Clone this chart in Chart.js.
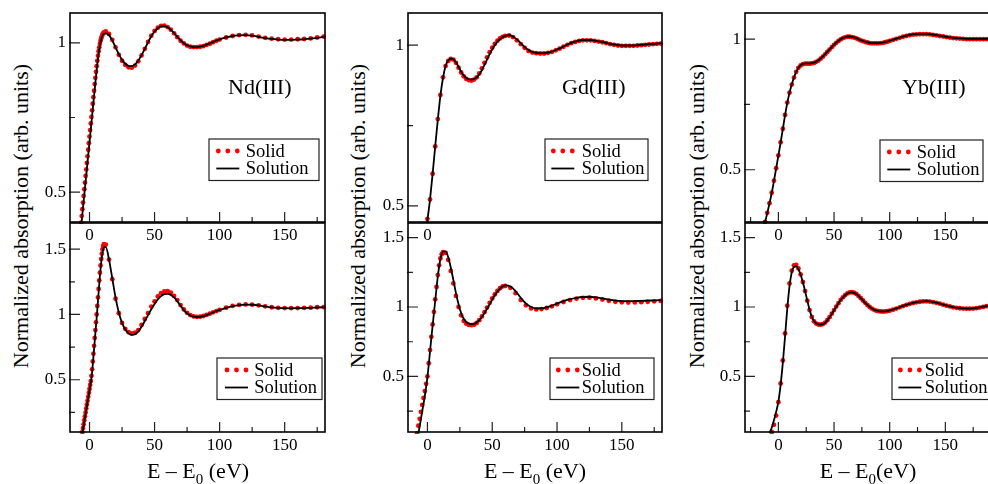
<!DOCTYPE html>
<html>
<head>
<meta charset="utf-8">
<script src="https://cdn.jsdelivr.net/npm/chart.js@4.4.0/dist/chart.umd.min.js"></script>
<style>
  html, body { margin: 0; padding: 0; background: #fff; overflow: hidden; width: 988px; height: 484px; }
  .panel { position: absolute; }
  .ytitle, .xtitle { position: absolute; font-family: 'Liberation Serif', serif; font-size: 22px; line-height: 22px; white-space: nowrap; color: #000; }
  .ytitle { top: 216px; transform: translate(-50%, -50%) rotate(-90deg); }
  .xtitle { top: 460px; transform: translateX(-50%); }
  .xtitle sub { font-size: 15px; line-height: 0; vertical-align: -6px; }
</style>
</head>
<body>
<div class="ytitle" style="left:21px">Normalized absorption (arb. units)</div>
<div class="ytitle" style="left:358px">Normalized absorption (arb. units)</div>
<div class="ytitle" style="left:697px">Normalized absorption (arb. units)</div>

<div id="ndTop" class="panel"><canvas></canvas></div>
<div id="gdTop" class="panel"><canvas></canvas></div>
<div id="ybTop" class="panel"><canvas></canvas></div>
<div id="ndBottom" class="panel"><canvas></canvas></div>
<div id="gdBottom" class="panel"><canvas></canvas></div>
<div id="ybBottom" class="panel"><canvas></canvas></div>

<div class="xtitle" style="left:198px">E &ndash; E<sub>0</sub> (eV)</div>
<div class="xtitle" style="left:535px">E &ndash; E<sub>0</sub> (eV)</div>
<div class="xtitle" style="left:868px">E &ndash; E<sub>0</sub>(eV)</div>

<script>
// labelled ticks
const xMajorTicks = [0, 50, 100, 150]
const yMajorTicks = [0.5, 1, 1.5]

// Nd(III): energies shared by both Nd panels
const ndEnergy = [-7,-6.5,-6,-5.5,-5,-4.5,-4,-3.5,-3,-2.5,-2,-1.5,-1,-0.5,0,0.5,1,1.5,2,2.5,3,3.5,4,4.5,5,5.5,6,6.5,7,7.5,8,8.5,9,9.5,10,10.5,11,
  12.5,15,17.5,20,22.5,25,27.5,30,32.5,35,37.5,40,42.5,45,47.5,50,52.5,55,57.5,60,62.5,65,67.5,70,72.5,75,77.5,80,82.5,85,87.5,90,92.5,95,97.5,100,
  105,110,115,120,125,130,135,140,145,150,155,160,165,170,175,180]
const ndTopSolid = [0.375,0.398,0.42,0.443,0.465,0.487,0.51,0.532,0.554,0.576,0.598,0.62,0.642,0.664,0.686,0.708,0.73,0.752,0.774,0.796,0.818,0.84,0.862,0.883,0.903,0.922,0.94,0.957,0.972,0.985,0.997,1.007,1.015,1.022,1.028,1.032,1.035,
  1.038,1.03,1.01,0.985,0.96,0.94,0.926,0.918,0.917,0.924,0.938,0.958,0.98,1.003,1.024,1.04,1.051,1.057,1.058,1.053,1.044,1.032,1.019,1.007,0.998,0.991,0.987,0.986,0.986,0.987,0.989,0.993,0.997,1.002,1.007,1.011,
  1.018,1.023,1.026,1.027,1.025,1.021,1.017,1.014,1.012,1.011,1.011,1.012,1.013,1.015,1.018,1.021]
const ndTopSolution = [0.36,0.382,0.404,0.426,0.448,0.47,0.492,0.514,0.536,0.558,0.58,0.602,0.624,0.646,0.668,0.69,0.712,0.734,0.756,0.778,0.8,0.822,0.844,0.866,0.888,0.909,0.929,0.947,0.964,0.979,0.992,1.003,1.012,1.019,1.024,1.028,1.03,
  1.032,1.026,1.008,0.985,0.962,0.943,0.93,0.923,0.922,0.928,0.941,0.959,0.98,1.002,1.022,1.038,1.049,1.055,1.056,1.052,1.044,1.033,1.02,1.008,0.999,0.992,0.988,0.986,0.986,0.987,0.99,0.994,0.998,1.003,1.008,1.012,
  1.018,1.023,1.025,1.026,1.024,1.02,1.016,1.013,1.011,1.01,1.01,1.011,1.012,1.014,1.017,1.02]
const ndBottomSolid = [0.01,0.04,0.07,0.1,0.13,0.16,0.19,0.22,0.25,0.28,0.31,0.34,0.37,0.4,0.43,0.46,0.49,0.53,0.58,0.64,0.7,0.76,0.82,0.88,0.94,1.0,1.065,1.13,1.195,1.26,1.32,1.375,1.425,1.465,1.5,1.523,1.538,
  1.535,1.42,1.27,1.12,1.01,0.935,0.89,0.864,0.855,0.86,0.88,0.92,0.965,1.01,1.06,1.1,1.138,1.163,1.177,1.178,1.166,1.142,1.11,1.072,1.038,1.012,0.995,0.985,0.982,0.983,0.988,0.996,1.006,1.016,1.026,1.035,
  1.052,1.065,1.073,1.077,1.075,1.07,1.062,1.055,1.051,1.049,1.048,1.049,1.05,1.052,1.055,1.056]
const ndBottomSolution = [0.0,0.03,0.06,0.09,0.12,0.15,0.18,0.21,0.24,0.27,0.3,0.33,0.36,0.39,0.42,0.45,0.48,0.515,0.56,0.615,0.675,0.735,0.795,0.855,0.915,0.975,1.04,1.105,1.17,1.235,1.295,1.35,1.4,1.44,1.475,1.5,1.514,
  1.515,1.42,1.275,1.13,1.015,0.935,0.885,0.855,0.843,0.848,0.87,0.905,0.95,0.995,1.04,1.08,1.115,1.14,1.155,1.158,1.15,1.13,1.1,1.066,1.033,1.008,0.992,0.983,0.98,0.982,0.987,0.995,1.005,1.015,1.025,1.034,
  1.05,1.063,1.071,1.075,1.074,1.069,1.061,1.054,1.05,1.048,1.047,1.048,1.049,1.051,1.053,1.055]

// Gd(III)
const gdTopEnergy = [-2,0,2,4,6,8,10,12,14,16,18,20,22,24,26,28,30,32,34,36,38,40,42,44,46,48,50,52,54,56,58,60,
  63,66,69,72,75,78,81,84,87,90,93,96,99,102,105,108,111,114,117,120,123,126,129,132,135,138,141,144,147,150,153,156,159,162,165,168,171,174,177,180]
const gdTopSolid = [0.38,0.46,0.52,0.6,0.685,0.77,0.845,0.9,0.935,0.951,0.957,0.955,0.945,0.93,0.915,0.903,0.895,0.891,0.89,0.893,0.9,0.912,0.928,0.945,0.962,0.978,0.992,1.004,1.014,1.021,1.026,1.029,
  1.03,1.025,1.015,1.003,0.992,0.982,0.977,0.975,0.974,0.974,0.976,0.979,0.984,0.989,0.995,1.001,1.006,1.01,1.013,1.015,1.015,1.015,1.013,1.011,1.009,1.006,1.003,1.001,0.999,0.998,0.998,0.998,0.998,0.999,1.0,1.001,1.002,1.003,1.004,1.005]
const gdTopSolution = [0.375,0.455,0.52,0.6,0.685,0.768,0.842,0.898,0.935,0.952,0.958,0.956,0.947,0.933,0.918,0.906,0.898,0.894,0.893,0.895,0.9,0.909,0.922,0.938,0.955,0.972,0.987,1.0,1.011,1.019,1.025,1.029,
  1.031,1.027,1.018,1.006,0.994,0.985,0.979,0.976,0.975,0.975,0.977,0.98,0.985,0.99,0.996,1.002,1.007,1.011,1.014,1.016,1.016,1.016,1.014,1.012,1.01,1.007,1.004,1.002,1.0,0.999,0.999,0.999,0.999,1.0,1.001,1.002,1.003,1.004,1.005,1.006]
const gdBottomEnergy = [-9,-8,-7,-6,-5,-4,-3,-2,-1,0,1,2,3,4,5,6,7,8,9,10,11,12,
  14,16,18,20,22,24,26,28,30,32,34,36,38,40,42,44,46,48,50,52,54,56,58,60,
  64,68,72,76,80,84,88,92,96,100,
  105,110,115,120,125,130,135,140,145,150,155,160,165,170,175,180]
const gdBottomSolid = [0.04,0.09,0.145,0.195,0.245,0.295,0.345,0.395,0.447,0.5,0.595,0.69,0.785,0.875,0.965,1.055,1.145,1.23,1.3,1.35,1.38,1.395,
  1.39,1.34,1.26,1.17,1.08,1.0,0.94,0.9,0.88,0.871,0.869,0.873,0.885,0.905,0.932,0.963,0.996,1.03,1.062,1.091,1.116,1.135,1.148,1.152,
  1.138,1.1,1.05,1.012,0.99,0.983,0.985,0.993,1.005,1.02,
  1.036,1.05,1.06,1.066,1.067,1.062,1.054,1.045,1.038,1.034,1.032,1.033,1.035,1.038,1.041,1.044]
const gdBottomSolution = [0.0,0.04,0.09,0.14,0.195,0.25,0.305,0.36,0.425,0.495,0.585,0.68,0.775,0.865,0.955,1.045,1.135,1.22,1.29,1.345,1.38,1.398,
  1.4,1.36,1.285,1.195,1.1,1.02,0.957,0.915,0.892,0.881,0.877,0.879,0.888,0.905,0.928,0.956,0.987,1.02,1.053,1.084,1.11,1.132,1.148,1.156,
  1.148,1.115,1.066,1.025,1.0,0.99,0.991,0.998,1.01,1.025,
  1.042,1.056,1.066,1.072,1.074,1.07,1.062,1.053,1.046,1.043,1.042,1.043,1.044,1.046,1.048,1.05]

// Yb(III): energies shared by both Yb panels
const ybEnergy = [-14,-12,-10,-8,-6,-4,-2,0,2,4,6,8,10,12,14,16,18,20,22,24,26,28,30,32,34,36,38,40,42,44,46,48,50,52,54,56,58,60,62,64,66,68,70,72,74,76,78,80,82,84,86,88,90,92,94,96,98,
  100,103,106,109,112,115,118,121,124,127,130,133,136,139,142,145,148,151,154,157,160,163,166,169,172,175,178,181,184,187,190]
const ybTopSolid = [0.27,0.3,0.335,0.372,0.412,0.458,0.506,0.555,0.605,0.657,0.71,0.757,0.795,0.826,0.853,0.875,0.89,0.899,0.904,0.906,0.906,0.906,0.907,0.909,0.913,0.918,0.925,0.933,0.942,0.951,0.96,0.969,0.978,0.986,0.993,0.999,1.004,1.007,1.009,1.009,1.008,1.006,1.003,0.999,0.995,0.992,0.989,0.987,0.985,0.984,0.984,0.984,0.984,0.985,0.986,0.988,0.99,
  0.993,0.997,1.001,1.005,1.009,1.012,1.015,1.017,1.018,1.019,1.019,1.019,1.018,1.016,1.014,1.012,1.01,1.008,1.006,1.004,1.003,1.002,1.001,1.0,1.0,1.0,1.0,1.0,1.0,1.0,1.0]
const ybTopSolution = [0.268,0.299,0.334,0.371,0.411,0.457,0.505,0.554,0.604,0.656,0.709,0.756,0.795,0.826,0.853,0.875,0.89,0.9,0.905,0.907,0.907,0.907,0.908,0.91,0.914,0.919,0.926,0.934,0.943,0.952,0.961,0.97,0.979,0.987,0.994,1.0,1.005,1.008,1.01,1.01,1.009,1.007,1.004,1.0,0.996,0.993,0.99,0.988,0.986,0.985,0.985,0.985,0.985,0.986,0.987,0.989,0.991,
  0.994,0.998,1.002,1.006,1.01,1.013,1.016,1.018,1.019,1.02,1.02,1.02,1.019,1.017,1.015,1.013,1.011,1.009,1.007,1.005,1.004,1.003,1.002,1.001,1.001,1.001,1.001,1.001,1.001,1.001,1.001]
const ybBottomSolid = [-0.06,-0.03,0.01,0.055,0.1,0.152,0.218,0.315,0.45,0.615,0.81,1.01,1.17,1.262,1.3,1.304,1.278,1.235,1.18,1.115,1.045,0.978,0.928,0.897,0.881,0.874,0.873,0.877,0.888,0.905,0.927,0.952,0.978,1.003,1.028,1.051,1.07,1.086,1.098,1.105,1.107,1.103,1.094,1.08,1.064,1.047,1.03,1.014,1.0,0.989,0.98,0.974,0.97,0.968,0.967,0.968,0.971,
  0.974,0.981,0.989,0.998,1.007,1.015,1.022,1.029,1.034,1.038,1.04,1.041,1.039,1.035,1.03,1.024,1.017,1.01,1.004,0.998,0.994,0.991,0.989,0.988,0.988,0.989,0.992,0.996,1.001,1.006,1.01]
const ybBottomSolution = [-0.03,0.01,0.05,0.09,0.13,0.185,0.245,0.318,0.44,0.6,0.79,0.99,1.15,1.248,1.288,1.292,1.272,1.232,1.178,1.114,1.045,0.98,0.93,0.899,0.882,0.875,0.873,0.877,0.887,0.904,0.926,0.951,0.977,1.002,1.027,1.05,1.069,1.085,1.097,1.104,1.106,1.102,1.093,1.08,1.064,1.047,1.03,1.015,1.001,0.99,0.981,0.975,0.971,0.969,0.968,0.969,0.972,
  0.975,0.982,0.99,0.999,1.008,1.016,1.023,1.03,1.035,1.039,1.041,1.042,1.04,1.036,1.031,1.025,1.018,1.011,1.005,0.999,0.995,0.992,0.99,0.989,0.989,0.99,0.993,0.997,1.002,1.007,1.011]

const YAXIS_W = 60
const XAXIS_H = 30
const PAD = 4
const SERIF = "'Liberation Serif', 'Times New Roman', serif"

Chart.defaults.font.family = SERIF
Chart.defaults.font.size = 17
Chart.defaults.color = '#000'

function isMajor(v, list){
    return list.some(m => Math.abs(m - v) < 1e-6)
}

// frame, inward ticks, panel name and the little legend box
const panelFrame = {
    id: 'panelFrame',
    afterDraw(chart, args, opts){
        const ctx = chart.ctx
        const a = chart.chartArea
        const xs = chart.scales.x
        const ys = chart.scales.y
        ctx.save()
        ctx.strokeStyle = '#222'
        ctx.lineWidth = 1.2
        ctx.beginPath()
        if(opts.xTicks !== false){
            xs.ticks.forEach(t => {
                const px = xs.getPixelForValue(t.value)
                const len = t.label ? 10 : 5
                ctx.moveTo(px, a.bottom)
                ctx.lineTo(px, a.bottom - len)
            })
        }
        ys.ticks.forEach(t => {
            const py = ys.getPixelForValue(t.value)
            const len = t.label ? 10 : 5
            ctx.moveTo(a.left - 1, py)
            ctx.lineTo(a.left + len, py)
        })
        ctx.stroke()

        ctx.strokeStyle = '#000'
        ctx.lineWidth = 1.6
        ctx.strokeRect(a.left, a.top, a.right - a.left, a.bottom - a.top)

        ctx.fillStyle = '#000'
        ctx.textBaseline = 'alphabetic'
        ctx.font = '22px ' + SERIF
        ctx.fillText(opts.label, a.left + opts.labelAt[0], a.top + opts.labelAt[1])

        const L = opts.legend
        const lx = a.left + L.at[0]
        const ly = a.top + L.at[1]
        ctx.fillStyle = '#fff'
        ctx.fillRect(lx, ly, L.w, 41.5)
        ctx.strokeStyle = '#222'
        ctx.lineWidth = 1.2
        ctx.strokeRect(lx, ly, L.w, 41.5)

        const dots = chart.data.datasets[0]
        const line = chart.data.datasets[1]
        ctx.fillStyle = dots.pointBackgroundColor
        for(let k=0; k<3; k++){
            ctx.beginPath()
            ctx.arc(lx + L.sym + k*9.5, ly + 12, dots.pointRadius, 0, Math.PI*2)
            ctx.fill()
        }
        ctx.strokeStyle = line.borderColor
        ctx.lineWidth = line.borderWidth
        ctx.beginPath()
        ctx.moveTo(lx + L.sym - 2, ly + 29.5)
        ctx.lineTo(lx + L.sym + 21, ly + 29.5)
        ctx.stroke()

        ctx.fillStyle = '#000'
        ctx.font = '18.5px ' + SERIF
        ctx.fillText(dots.label, lx + L.text, ly + 17.5)
        ctx.fillText(line.label, lx + L.text, ly + 34.5)
        ctx.restore()
    }
}

function makePanel(id, area, xRange, yRange, energy, solid, solution, deco){
    const box = document.getElementById(id)
    box.style.left = (area.left - YAXIS_W) + 'px'
    box.style.top = (area.top - PAD) + 'px'
    box.style.width = (area.right - area.left + YAXIS_W + PAD) + 'px'
    box.style.height = (area.bottom - area.top + PAD + XAXIS_H) + 'px'

    const xLabels = deco.xLabels || xMajorTicks

    return new Chart(box.querySelector('canvas'), {
        type: 'scatter',
        data: {
            datasets: [
                {
                    label: 'Solid',
                    data: energy.map((e, i) => ({x: e, y: solid[i]})),
                    pointRadius: 2.4,
                    pointBackgroundColor: '#ff0000',
                    pointBorderWidth: 0,
                    showLine: false,
                    clip: 2,
                    order: 1
                },
                {
                    label: 'Solution',
                    data: energy.map((e, i) => ({x: e, y: solution[i]})),
                    showLine: true,
                    borderColor: '#000',
                    borderWidth: 1.8,
                    pointRadius: 0,
                    cubicInterpolationMode: 'monotone',
                    clip: 1,
                    order: 0
                }
            ]
        },
        options: {
            responsive: true,
            maintainAspectRatio: false,
            animation: false,
            events: [],
            layout: { autoPadding: false, padding: {left: 0, top: PAD, right: PAD, bottom: 0} },
            plugins: {
                legend: { display: false },
                tooltip: { enabled: false },
                panelFrame: deco
            },
            scales: {
                x: {
                    type: 'linear',
                    min: xRange[0],
                    max: xRange[1],
                    afterFit: s => { s.height = XAXIS_H; s.paddingLeft = 0; s.paddingRight = 0 },
                    grid: { display: false, drawTicks: false },
                    border: { display: false },
                    ticks: {
                        stepSize: 25,
                        autoSkip: false,
                        maxRotation: 0,
                        includeBounds: false,
                        padding: 3,
                        callback: v => isMajor(v, xLabels) ? String(v) : ''
                    }
                },
                y: {
                    type: 'linear',
                    min: yRange[0],
                    max: yRange[1],
                    afterFit: s => { s.width = YAXIS_W; s.paddingTop = 0; s.paddingBottom = 0 },
                    grid: { display: false, drawTicks: false },
                    border: { display: false },
                    ticks: {
                        stepSize: 0.25,
                        autoSkip: false,
                        includeBounds: false,
                        padding: 4,
                        callback: v => isMajor(v, yMajorTicks) ? String(Math.round(v*100)/100) : ''
                    }
                }
            }
        },
        plugins: [panelFrame]
    })
}

makePanel('ndTop', {left: 70, top: 13, right: 325, bottom: 222}, [-15, 181], [0.4, 1.1],
    ndEnergy, ndTopSolid, ndTopSolution,
    {label: 'Nd(III)', labelAt: [158, 81], legend: {at: [139, 126], w: 110, sym: 9.3, text: 36.7}})
makePanel('gdTop', {left: 408, top: 13, right: 662, bottom: 222}, [-15, 181], [0.45, 1.1],
    gdTopEnergy, gdTopSolid, gdTopSolution,
    {label: 'Gd(III)', labelAt: [154, 81], xTicks: false, xLabels: [0], legend: {at: [137, 126], w: 103, sym: 8.3, text: 36.7}})
makePanel('ybTop', {left: 745, top: 13, right: 1001, bottom: 222}, [-30, 200], [0.3, 1.1],
    ybEnergy, ybTopSolid, ybTopSolution,
    {label: 'Yb(III)', labelAt: [157, 81], legend: {at: [135, 127], w: 103, sym: 9.3, text: 36.7}})
makePanel('ndBottom', {left: 70, top: 223, right: 325, bottom: 432}, [-15, 181], [0.1, 1.7],
    ndEnergy, ndBottomSolid, ndBottomSolution,
    {label: '', labelAt: [0, 0], legend: {at: [147, 135], w: 105, sym: 10, text: 37.3}})
makePanel('gdBottom', {left: 408, top: 223, right: 662, bottom: 432}, [-15, 181], [0.1, 1.605],
    gdBottomEnergy, gdBottomSolid, gdBottomSolution,
    {label: '', labelAt: [0, 0], legend: {at: [142, 135], w: 104, sym: 8.3, text: 31.7}})
makePanel('ybBottom', {left: 745, top: 223, right: 1001, bottom: 432}, [-30, 200], [0.1, 1.605],
    ybEnergy, ybBottomSolid, ybBottomSolution,
    {label: '', labelAt: [0, 0], legend: {at: [147, 135], w: 105, sym: 8.4, text: 32.7}})
</script>
</body>
</html>
